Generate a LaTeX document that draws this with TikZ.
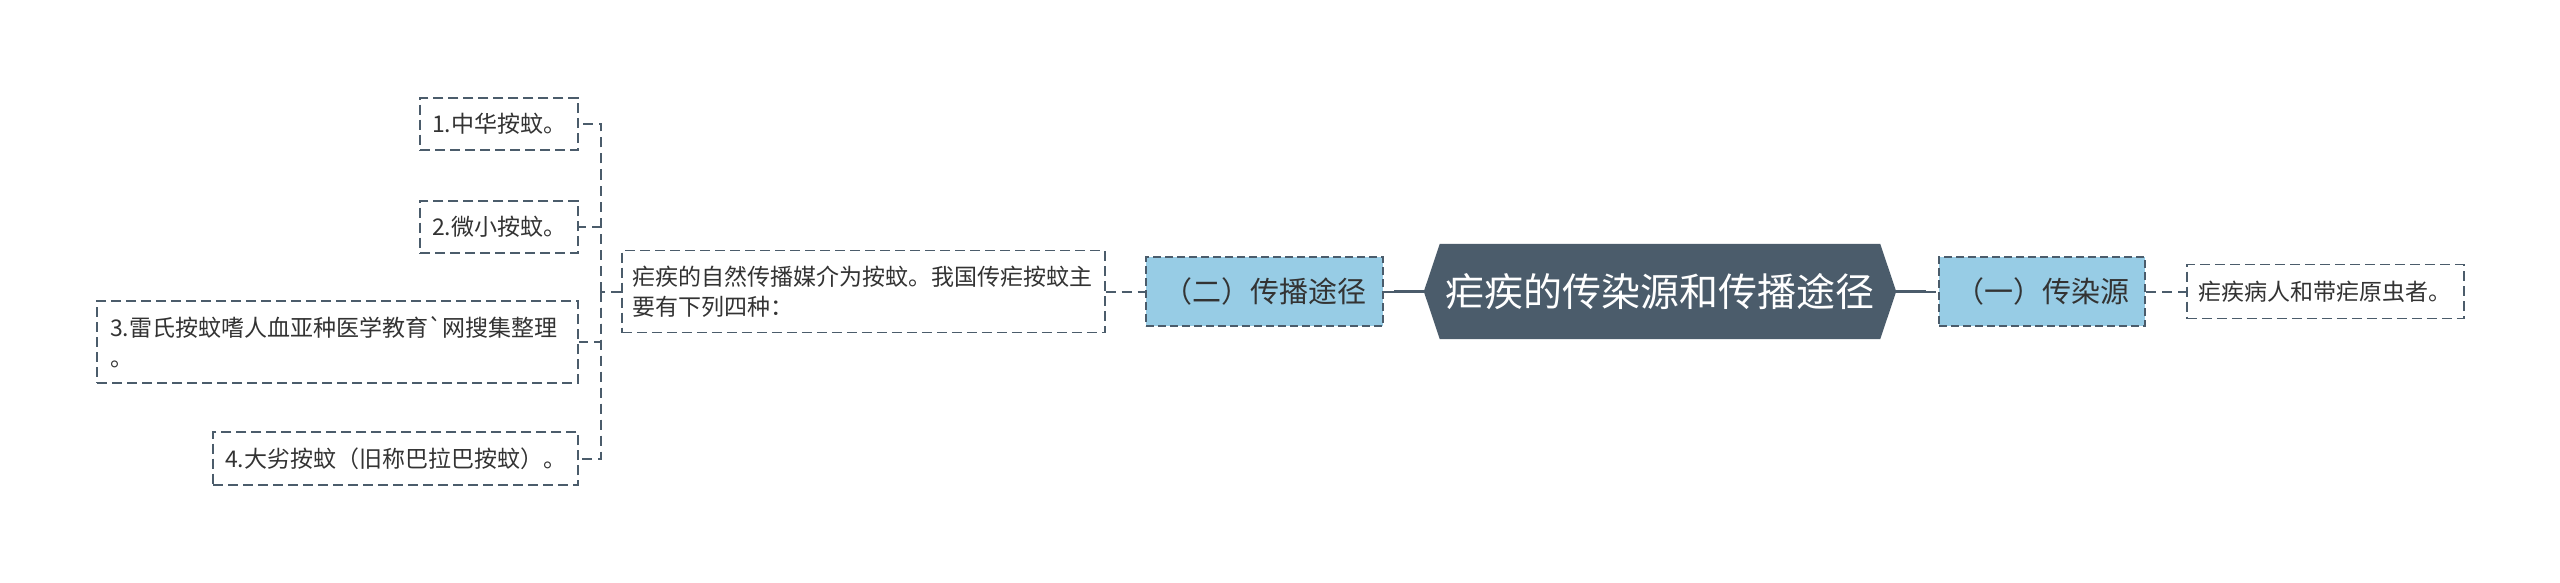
\documentclass[tikz,border=0pt]{standalone}
\usepackage{fontspec}
\newfontfamily\cjk[Ligatures=TeXOff]{Noto Sans CJK SC}
\usetikzlibrary{backgrounds,calc}
\definecolor{hexfill}{HTML}{4B5C6B}
\definecolor{bluefill}{HTML}{97CCE5}
\definecolor{lineclr}{HTML}{4B5C6B}
\definecolor{txt}{HTML}{333333}
\begin{document}
\begin{tikzpicture}[x=1pt,y=-1pt,
  leaf/.style={draw=lineclr, dash pattern=on 10pt off 5pt, line width=1.6pt, fill=white, text=txt,
    font=\cjk\fontsize{23}{30}\selectfont, inner xsep=12pt, inner ysep=0pt, minimum height=52pt},
  bluebox/.style={draw=hexfill, dash pattern=on 8pt off 4pt, line width=2pt, fill=bluefill, text=txt,
    font=\cjk\fontsize{29}{34}\selectfont, inner xsep=10pt, inner ysep=0pt, minimum height=69pt},
  conn/.style={draw=lineclr, line width=2pt, dash pattern=on 10pt off 6pt},
  solidconn/.style={draw=lineclr, line width=3.5pt}]
\useasboundingbox (0,0) rectangle (2560,583);
% left leaves
\node[leaf, anchor=east, minimum width=156pt] (b1) at (579,124) {1.中华按蚊。};
\node[leaf, anchor=east, minimum width=156pt] (b2) at (579,227) {2.微小按蚊。};
\node[leaf, anchor=east, text width=455pt, inner xsep=13pt, minimum height=82pt, align=left] (b3) at (579,342) {3.雷氏按蚊嗜人血亚种医学教育`网搜集整理\\。};
\node[leaf, anchor=east, minimum width=362pt, minimum height=53pt] (b4) at (579,458.5) {4.大劣按蚊（旧称巴拉巴按蚊）。};
% middle text
\node[leaf, anchor=west, text width=462pt, inner xsep=10.5pt, minimum height=82pt, align=left] (m) at (621,291.5) {疟疾的自然传播媒介为按蚊。我国传疟按蚊主\\要有下列四种：};
% blue boxes
\node[bluebox, anchor=west, minimum width=237pt] (t2) at (1145,291.5) {（二）传播途径};
\node[bluebox, anchor=west, minimum width=206pt] (t1) at (1938,291.5) {（一）传染源};
% root
\node[font=\cjk\fontsize{39}{45}\selectfont, text=white, minimum width=472pt, minimum height=95pt, inner sep=0pt] (h) at (1660,291.5) {疟疾的传染源和传播途径};
% right leaf
\node[leaf, anchor=west, minimum width=276pt, minimum height=54pt] (r1) at (2186,291.5) {疟疾病人和带疟原虫者。};
\begin{scope}[on background layer]
  \fill[white] (0,0) rectangle (2560,583);
  \fill[hexfill] (h.west) -- ($(h.north west)+(16,0)$) -- ($(h.north east)+(-16,0)$) -- (h.east)
    -- ($(h.south east)+(-16,0)$) -- ($(h.south west)+(16,0)$) -- cycle;
\end{scope}
% connectors
\coordinate (j) at (601,291.5);
\draw[conn] (m.west) -- (j);
\foreach \b in {b1,b2,b3,b4} \draw[conn] (j) |- (\b.east);
\draw[conn] (m.east) -- (t2.west);
\coordinate (c2) at (1394,291.5);
\draw[conn] (t2.east) -- (c2);
\draw[solidconn] (c2) -- (h.west);
\coordinate (c1) at (1926,291.5);
\draw[solidconn] (h.east) -- (c1);
\draw[conn] (c1) -- (t1.west);
\draw[conn] (t1.east) -- (r1.west);
\end{tikzpicture}
\end{document}
